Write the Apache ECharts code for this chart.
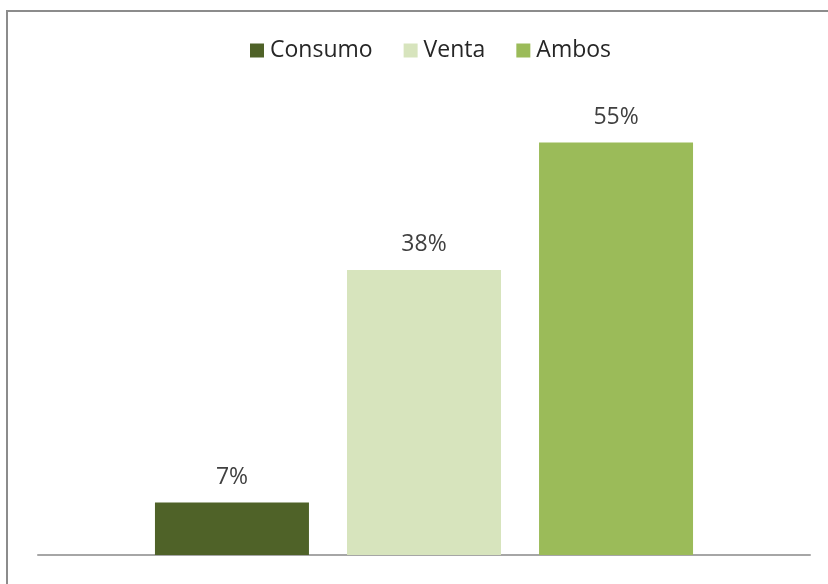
<!DOCTYPE html>
<html>
<head>
<meta charset="utf-8">
<script src="https://cdn.jsdelivr.net/npm/echarts@6/dist/echarts.min.js"></script>
<style>
  html, body { margin: 0; padding: 0; background: #ffffff; }
  #chart { width: 828px; height: 584px; }
</style>
</head>
<body>
<div id="chart"></div>
<script>
// Uso de la producción: porcentaje por destino
const categories = [''];
const seriesNames = ['Consumo', 'Venta', 'Ambos'];
const consumoValues = [7];
const ventaValues = [38];
const ambosValues = [55];
const seriesColors = ['#4F6228', '#D7E4BD', '#9BBB59'];

const valuesBySeries = [consumoValues, ventaValues, ambosValues];
const fontFamily = '"Open Sans", sans-serif';

const chart = echarts.init(document.getElementById('chart'), null, { renderer: 'canvas' });

chart.setOption({
  animation: false,
  backgroundColor: '#ffffff',
  graphic: [
    {
      type: 'line',
      shape: { x1: 6, y1: 11, x2: 828, y2: 11 },
      style: { stroke: '#8c8c8c', lineWidth: 2 },
      silent: true
    },
    {
      type: 'line',
      shape: { x1: 7, y1: 10, x2: 7, y2: 584 },
      style: { stroke: '#8c8c8c', lineWidth: 2 },
      silent: true
    }
  ],
  legend: {
    top: 34,
    left: 245,
    itemWidth: 14,
    itemHeight: 14,
    itemGap: 31,
    itemStyle: { borderWidth: 0 },
    icon: 'rect',
    textStyle: { fontFamily: fontFamily, fontSize: 23, color: '#262626', padding: [0, 0, 0, 1] },
    data: seriesNames
  },
  grid: { left: 38, right: 18, top: 105, bottom: 29 },
  xAxis: {
    type: 'category',
    data: categories,
    axisLine: { show: true, lineStyle: { color: '#a6a6a6', width: 2 } },
    axisTick: { show: false },
    axisLabel: { show: false }
  },
  yAxis: {
    type: 'value',
    min: 0,
    max: 60,
    show: false,
    splitLine: { show: false }
  },
  series: seriesNames.map((name, i) => ({
    name: name,
    type: 'bar',
    data: valuesBySeries[i],
    barWidth: 154,
    barGap: '24.7%',
    itemStyle: { color: seriesColors[i] },
    label: {
      show: true,
      position: 'top',
      distance: 14,
      formatter: '{c}%',
      fontFamily: fontFamily,
      fontSize: 23,
      color: '#404040'
    }
  }))
});
</script>
</body>
</html>
